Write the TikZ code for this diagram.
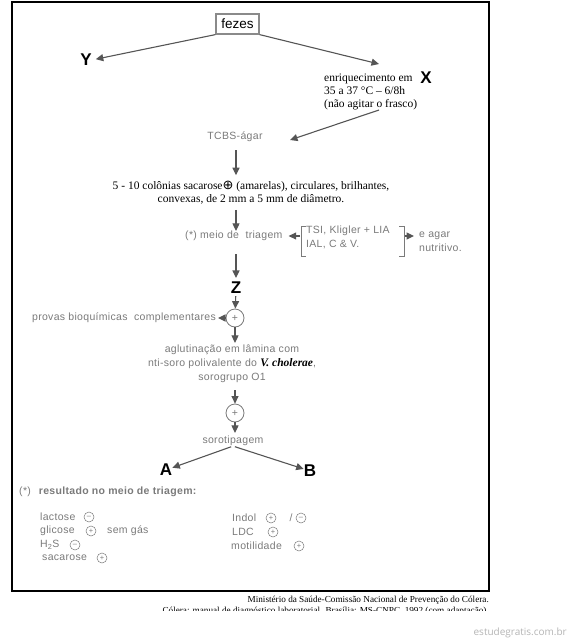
\documentclass[tikz,border=0pt]{standalone}
\usepackage{fontspec}
\setmainfont{Liberation Serif}
\setsansfont{Liberation Sans}
\newfontfamily\greyfont[LetterSpace=3]{Liberation Sans}
\newfontfamily\dvsans{DejaVu Sans}
\newfontfamily\markfont{Open Sans}
\usetikzlibrary{arrows.meta}
\definecolor{txtgray}{HTML}{7A7A7A}
\definecolor{arrgray}{HTML}{555555}
\definecolor{boxgray}{HTML}{8A8A8A}
\definecolor{wmgray}{HTML}{B4B4B4}
\begin{document}
\begin{tikzpicture}[x=1pt,y=-1pt,
  every node/.style={inner sep=0pt},
  serif/.style={font=\fontsize{11.5}{13}\selectfont,align=center},
  grey/.style={font=\greyfont\fontsize{10.5}{14}\selectfont,text=txtgray},
  letter/.style={font=\sffamily\bfseries\fontsize{17}{17}\selectfont},
  arr/.style={draw=arrgray,line width=1.1pt,-{Triangle[length=7.5pt,width=7pt]}},
  brk/.style={draw=txtgray,line width=0.9pt},
  plus/.style={circle,draw=txtgray,line width=0.8pt,minimum size=18pt,grey},
  sign/.style={circle,draw=txtgray,line width=0.5pt,minimum size=10pt,text=txtgray,font=\sffamily\fontsize{7.5}{7.5}\selectfont}]
  \useasboundingbox (0,0) rectangle (570,640);
  % frame
  \draw[line width=1.1pt] (12,2) rectangle (489,591);
  % top: fezes and the two branches
  \node[draw=boxgray,line width=1.2pt,minimum width=43pt,minimum height=20pt,font=\sffamily\fontsize{13.5}{13.5}\selectfont] (fezes) at (237.5,24) {fezes};
  \node[letter] (Y) at (86,60) {Y};
  \coordinate (enrin) at (379,64);
  \node[serif,align=left,anchor=north west] (enr) at (324,74) {enriquecimento em\\35 a 37 °C – 6/8h\\(não agitar o frasco)};
  \node[letter] (X) at (426,78) {X};
  \coordinate (enrout) at (379,110);
  \node[grey] (tcbs) at (235,137) {TCBS-ágar};
  \coordinate (tcbsin) at (290,140);
  \draw[arr,shorten >=4pt] (fezes.south west) -- (Y.east);
  \draw[arr] (fezes.south east) -- (enrin);
  \draw[arr] (enrout) -- (tcbsin);
  % main column
  \coordinate (spine) at (236,0);
  \node[serif] (col) at (251,193) {5 - 10 colônias sacarose{\dvsans\fontsize{13}{13}\selectfont ⊕} (amarelas), circulares, brilhantes,\\convexas, de 2 mm a 5 mm de diâmetro.};
  \node[grey,anchor=west] (meio) at (185,236) {(*) meio de\ \ triagem};
  \node[grey,align=left,anchor=west] (tsi) at (306,237.5) {TSI, Kligler + LIA\\IAL, C \& V.};
  \node[grey,align=left,anchor=west] (agar) at (419,241.5) {e agar\\nutritivo.};
  \draw[brk] (306,226) -- (301,226) -- (301,256) -- (306,256);
  \draw[brk] (399,226) -- (404,226) -- (404,256) -- (399,256);
  \coordinate (brkl) at (300,236);
  \coordinate (brkr) at (405,236);
  \draw[arr,shorten >=6pt] (brkl) -- (meio.east);
  \draw[arr,shorten >=5pt] (brkr) -- (agar.west |- brkr);
  \draw[arr,shorten <=8pt,shorten >=6pt] (tcbs.south -| spine) -- (col.north -| spine);
  \draw[arr,shorten <=5pt] (col.south -| spine) -- (meio.north -| spine);
  \node[letter] (Z) at (236,288) {Z};
  \draw[arr,shorten <=13pt,shorten >=4pt] (meio.south -| spine) -- (Z.north);
  \node[plus] (p1) at (235,318) {+};
  \node[grey,anchor=east] (provas) at (216,318) {provas bioquímicas\ \ complementares};
  \draw[arr,shorten <=2pt] (Z) -- (p1);
  \draw[arr,shorten >=2pt] (p1) -- (provas);
  \node[grey,align=center] (aglut) at (232,364) {aglutinação em lâmina com\\nti-soro polivalente do {\normalfont\fontsize{11.5}{11}\selectfont\bfseries\itshape\color{black}V. cholerae},\\sorogrupo O1};
  \draw[arr,shorten >=2pt] (p1) -- (aglut.north -| p1);
  \node[plus] (p2) at (235,413) {+};
  \draw[arr,shorten <=7pt] (aglut.south -| p2) -- (p2);
  \node[grey] (soro) at (233,441) {sorotipagem};
  \draw[arr,shorten >=3pt] (p2) -- (soro.north -| p2);
  \node[letter] (A) at (166,470) {A};
  \node[letter] (B) at (310,471) {B};
  \draw[arr,shorten <=2pt] (soro.south) -- (A);
  \draw[arr,shorten <=2pt] (soro.south) -- (B);
  % legend
  \node[grey,anchor=west] (note) at (19,492) {(*)\hspace{8pt}{\bfseries resultado no meio de triagem:}};
  \node[grey,anchor=west] (lac) at (40,517) {lactose};
  \node[sign] (lacs) at (89,517) {–};
  \node[grey,anchor=west] (gli) at (40,531) {glicose};
  \node[sign] (glis) at (91,531) {+};
  \node[grey,anchor=west] (gas) at (107,531) {sem gás};
  \node[grey,anchor=west] (hs) at (40,545) {H\textsubscript{2}S};
  \node[sign] (hss) at (75,545) {–};
  \node[grey,anchor=west] (sac) at (42,558) {sacarose};
  \node[sign] (sacs) at (102,558) {+};
  \node[grey,anchor=west] (ind) at (232,518) {Indol};
  \node[sign] (indp) at (271,518) {+};
  \node[grey] (slash) at (291,518) {/};
  \node[sign] (indn) at (301,518) {–};
  \node[grey,anchor=west] (ldc) at (232,532) {LDC};
  \node[sign] (ldcs) at (273,532) {+};
  \node[grey,anchor=west] (mot) at (231,546) {motilidade};
  \node[sign] (mots) at (299,546) {+};
  % source and watermark
  \node[anchor=base east,font=\fontsize{9.2}{9.2}\selectfont] (src) at (489,602) {Ministério da Saúde-Comissão Nacional de Prevenção do Cólera.};
  \begin{scope}
    \clip (0,604) rectangle (570,610.5);
    \node[anchor=base east,font=\fontsize{9.2}{9.2}\selectfont] (srcb) at (489,613.5) {Cólera: manual de diagnóstico laboratorial. Brasília: MS-CNPC, 1992 (com adaptação).};
  \end{scope}
  \node[anchor=east,text=wmgray,font=\markfont\fontsize{10}{10}\selectfont] (wm) at (567,633) {estudegratis.com.br};
\end{tikzpicture}
\end{document}
